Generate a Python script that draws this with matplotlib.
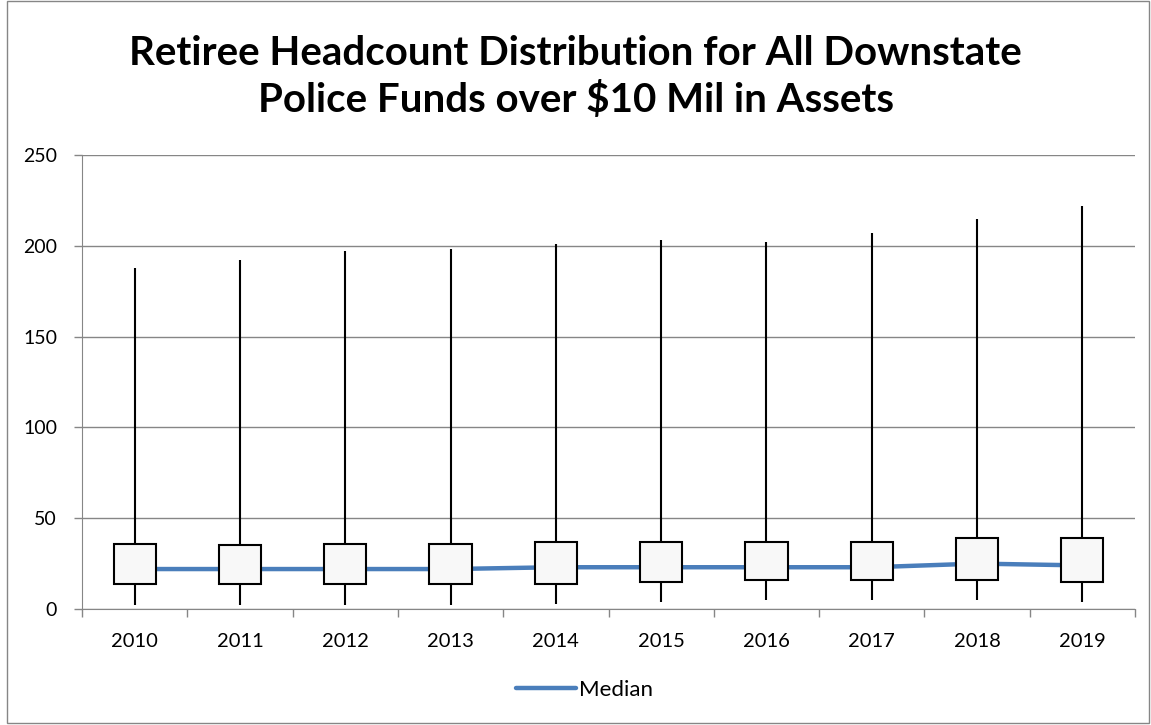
import matplotlib.pyplot as plt
import numpy as np

years = ['2010', '2011', '2012', '2013', '2014', '2015', '2016', '2017', '2018', '2019']
mins = [2, 2, 2, 2, 3, 4, 5, 5, 5, 4]
q1 = [14, 13.5, 14, 14, 14, 15, 16, 16, 16, 15]
medians = [22, 22, 22, 22, 23, 23, 23, 23, 25, 24]
q3 = [36, 35.5, 36, 36, 37, 37, 37, 37, 39, 39]
maxs = [188, 192, 197, 198, 201, 203, 202, 207, 215, 222]

plt.rcParams['font.family'] = ['Lato', 'DejaVu Sans']

fig = plt.figure(figsize=(11.51, 7.25), dpi=100)
ax = fig.add_axes([82 / 1151, 1 - 609 / 725, (1135 - 82) / 1151, (609 - 155) / 725])

# outer chart border
fig.patches.append(plt.Rectangle((7 / 1151, 2 / 725), 1142 / 1151, 722 / 725,
                                 transform=fig.transFigure, fill=False,
                                 edgecolor='#868686', linewidth=1))

x = np.arange(len(years))

ax.vlines(x, mins, maxs, color='black', linewidth=1.5, zorder=2)
ax.plot(x, medians, color='#4a7ebb', linewidth=3.2, label='Median', zorder=3,
        solid_capstyle='round')
ax.bar(x, np.array(q3) - np.array(q1), bottom=q1, width=0.4,
       color='#f8f8f8', edgecolor='black', linewidth=1.5, zorder=4)

ax.set_xlim(-0.5, len(years) - 0.5)
ax.set_ylim(0, 250)
ax.set_yticks(range(0, 251, 50))
ax.yaxis.grid(True, color='#868686', linewidth=1)
ax.set_axisbelow(True)

ax.set_xticks(x)
ax.set_xticklabels(years)
ax.set_xticks(np.arange(-0.5, len(years), 1), minor=True)
ax.tick_params(axis='x', which='major', length=0, pad=17, labelsize=14.5)
ax.tick_params(axis='x', which='minor', length=6, color='#868686', width=1)
ax.tick_params(axis='y', length=6, color='#868686', width=1, labelsize=14, pad=12)

for side in ['top', 'right']:
    ax.spines[side].set_visible(False)
for side in ['left', 'bottom']:
    ax.spines[side].set_color('#868686')

fig.text(0.5, 1 - 77 / 725, 'Retiree Headcount Distribution for All Downstate\nPolice Funds over $10 Mil in Assets',
         ha='center', va='center', fontsize=29, fontweight='bold', linespacing=1.3)

fig.legend(loc='center', bbox_to_anchor=(0.508, 1 - 690 / 725), frameon=False,
           fontsize=16, handlelength=2.7, handletextpad=0.15)

fig.savefig('out.png', dpi=100)
